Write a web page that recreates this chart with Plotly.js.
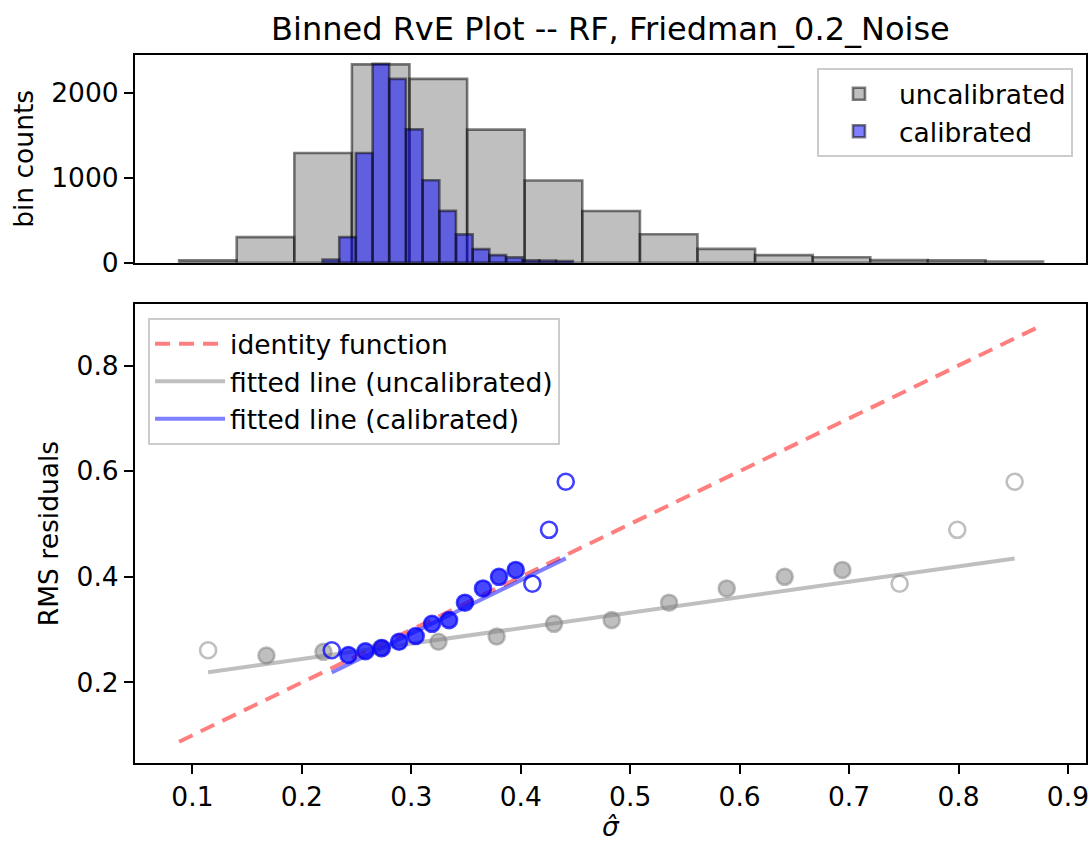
<!DOCTYPE html>
<html>
<head>
<meta charset="utf-8">
<script src="https://cdn.plot.ly/plotly-3.0.1.min.js"></script>
<style>
  html, body { margin: 0; padding: 0; background: #ffffff; }
  #chart { width: 1091px; height: 842px; }
</style>
</head>
<body>
<div id="chart"></div>
<script>
// ---- data ----
const titleText = "Binned RvE Plot -- RF, Friedman_0.2_Noise";

// histogram bin edges and counts
const uncalEdges = [0.0878, 0.1404, 0.1931, 0.2457, 0.2983, 0.3510, 0.4036, 0.4562, 0.5089, 0.5615, 0.6141, 0.6668, 0.7194, 0.7720, 0.8247, 0.8773];
const uncalCounts = [30, 302, 1294, 2340, 2169, 1570, 970, 610, 336, 163, 90, 65, 32, 28, 15];
const calEdges = [0.2188, 0.2341, 0.2493, 0.2646, 0.2798, 0.2951, 0.3103, 0.3256, 0.3408, 0.3561, 0.3713, 0.3866, 0.4018, 0.4171, 0.4323, 0.4476];
const calCounts = [38, 302, 1294, 2345, 2169, 1573, 973, 612, 334, 161, 90, 63, 28, 25, 20];

// binned RMS residuals vs predicted sigma
const uncalBinSigma = [0.1143, 0.1676, 0.2197, 0.2722, 0.3248, 0.3780, 0.4304, 0.4831, 0.5355, 0.5882, 0.6412, 0.6939, 0.7462, 0.7989, 0.8513];
const uncalBinRMS   = [0.261, 0.251, 0.258, 0.265, 0.277, 0.287, 0.311, 0.318, 0.351, 0.378, 0.400, 0.413, 0.387, 0.489, 0.580];
const calBinSigma   = [0.2273, 0.2425, 0.2581, 0.2730, 0.2888, 0.3040, 0.3189, 0.3345, 0.3490, 0.3655, 0.3801, 0.3954, 0.4106, 0.4258, 0.4411];
const calBinRMS     = [0.261, 0.252, 0.259, 0.265, 0.277, 0.288, 0.311, 0.318, 0.351, 0.378, 0.400, 0.413, 0.387, 0.489, 0.580];

// fitted lines (slope, intercept)
const uncalFit = [0.2924, 0.1859];
const calFit = [1.0103, -0.0107];

// tick labels
const xTicks = [0.1, 0.2, 0.3, 0.4, 0.5, 0.6, 0.7, 0.8, 0.9];
const xTickText = ["0.1", "0.2", "0.3", "0.4", "0.5", "0.6", "0.7", "0.8", "0.9"];
const histTicks = [0, 1000, 2000];
const rmsTicks = [0.2, 0.4, 0.6, 0.8];
const rmsTickText = ["0.2", "0.4", "0.6", "0.8"];

const minCount = 50; // bins with fewer points drawn as open circles
const legendNames = ["uncalibrated", "calibrated", "identity function", "fitted line (uncalibrated)", "fitted line (calibrated)"];

// ---- helpers ----
function centers(e) { const c = []; for (let i = 0; i < e.length - 1; i++) c.push((e[i] + e[i + 1]) / 2); return c; }
function widths(e) { const w = []; for (let i = 0; i < e.length - 1; i++) w.push(e[i + 1] - e[i]); return w; }

const FONT = "DejaVu Sans, Verdana, sans-serif";
const FS = 26.5;

const uncalOpen = uncalCounts.map(c => c < minCount);
const calOpen = calCounts.map(c => c < minCount);

const traces = [
  {
    type: "bar", x: centers(uncalEdges), y: uncalCounts, width: widths(uncalEdges),
    xaxis: "x2", yaxis: "y2", name: legendNames[0], legend: "legend", legendgroup: "g1",
    marker: { color: "rgba(128,128,128,0.5)", line: { color: "rgba(0,0,0,0.5)", width: 2.6 } },
    hoverinfo: "skip"
  },
  {
    type: "bar", x: centers(calEdges), y: calCounts, width: widths(calEdges),
    xaxis: "x2", yaxis: "y2", name: legendNames[1], legend: "legend", legendgroup: "g2",
    marker: { color: "rgba(0,0,255,0.5)", line: { color: "rgba(0,0,0,0.5)", width: 2.6 } },
    hoverinfo: "skip"
  },
  {
    type: "scatter", mode: "lines",
    x: [uncalEdges[0], uncalEdges[uncalEdges.length - 1]],
    y: [uncalEdges[0], uncalEdges[uncalEdges.length - 1]],
    xaxis: "x", yaxis: "y", name: legendNames[2], legend: "legend2", legendgroup: "g3",
    line: { color: "rgba(255,0,0,0.5)", width: 4, dash: "15px,9px" }
  },
  {
    type: "scatter", mode: "lines",
    x: [uncalBinSigma[0], uncalBinSigma[uncalBinSigma.length - 1]],
    y: [uncalFit[0] * uncalBinSigma[0] + uncalFit[1], uncalFit[0] * uncalBinSigma[uncalBinSigma.length - 1] + uncalFit[1]],
    xaxis: "x", yaxis: "y", name: legendNames[3], legend: "legend2", legendgroup: "g4",
    line: { color: "rgba(128,128,128,0.5)", width: 4 }
  },
  {
    type: "scatter", mode: "lines",
    x: [calBinSigma[0], calBinSigma[calBinSigma.length - 1]],
    y: [calFit[0] * calBinSigma[0] + calFit[1], calFit[0] * calBinSigma[calBinSigma.length - 1] + calFit[1]],
    xaxis: "x", yaxis: "y", name: legendNames[4], legend: "legend2", legendgroup: "g5",
    line: { color: "rgba(0,0,255,0.5)", width: 4 }
  },
  {
    type: "scatter", mode: "markers", x: uncalBinSigma, y: uncalBinRMS,
    xaxis: "x", yaxis: "y", showlegend: false, hoverinfo: "skip",
    marker: {
      size: 16,
      color: uncalOpen.map(o => o ? "rgba(255,255,255,0)" : "rgba(128,128,128,0.5)"),
      line: { width: 2.6, color: "rgba(128,128,128,0.5)" }
    }
  },
  {
    type: "scatter", mode: "markers", x: calBinSigma, y: calBinRMS,
    xaxis: "x", yaxis: "y", showlegend: false, hoverinfo: "skip",
    marker: {
      size: 16,
      color: calOpen.map(o => o ? "rgba(255,255,255,0)" : "rgba(0,0,255,0.72)"),
      line: { width: 2.6, color: calOpen.map(o => o ? "rgba(0,0,255,0.75)" : "rgba(0,0,255,0.72)") }
    }
  }
];

const axisCommon = {
  showline: true, mirror: true, linecolor: "#000000", linewidth: 2,
  ticks: "outside", ticklen: 9, tickwidth: 2, tickcolor: "#000000",
  showgrid: false, zeroline: false,
  tickfont: { family: FONT, size: FS, color: "#000000" }
};

const xRange = [0.0475, 0.9165];

const legendCommon = {
  xref: "paper", yref: "paper",
  bgcolor: "rgba(255,255,255,0.8)", bordercolor: "#cccccc", borderwidth: 2,
  font: { family: FONT, size: FS, color: "#000000" },
  tracegroupgap: 2, traceorder: "normal", itemwidth: 70
};

const layout = {
  width: 1091, height: 842,
  paper_bgcolor: "#ffffff", plot_bgcolor: "#ffffff",
  margin: { l: 135, r: 5, t: 55, b: 79 },
  font: { family: FONT, size: FS, color: "#000000" },
  barmode: "overlay",
  bargap: 0,
  title: {
    text: titleText, font: { family: FONT, size: 32, color: "#000000" },
    x: 0.5595, xanchor: "center", xref: "container",
    y: 1 - 29 / 842, yanchor: "middle", yref: "container"
  },
  xaxis: Object.assign({}, axisCommon, {
    domain: [0, 1], anchor: "y", range: xRange,
    tickvals: xTicks, ticktext: xTickText,
    title: { text: "<i>σ̂</i>", font: { family: FONT, size: FS }, standoff: 4 }
  }),
  yaxis: Object.assign({}, axisCommon, {
    domain: [0, 0.6483], anchor: "x", range: [0.0475, 0.9165],
    tickvals: rmsTicks, ticktext: rmsTickText,
    title: { text: "RMS residuals", font: { family: FONT, size: FS }, standoff: 10 }
  }),
  xaxis2: Object.assign({}, axisCommon, {
    domain: [0, 1], anchor: "y2", range: xRange,
    ticks: "", showticklabels: false
  }),
  yaxis2: Object.assign({}, axisCommon, {
    domain: [0.7066, 1], anchor: "x2", range: [0, 2450],
    tickvals: histTicks,
    title: { text: "bin counts", font: { family: FONT, size: FS }, standoff: 10 }
  }),
  legend: Object.assign({}, legendCommon, {
    x: 0.9863, xanchor: "right", y: 0.9816, yanchor: "top"
  }),
  legend2: Object.assign({}, legendCommon, {
    x: 0.0137, xanchor: "left", y: 0.6285, yanchor: "top"
  })
};

Plotly.newPlot("chart", traces, layout, { displayModeBar: false, staticPlot: true });
</script>
</body>
</html>
